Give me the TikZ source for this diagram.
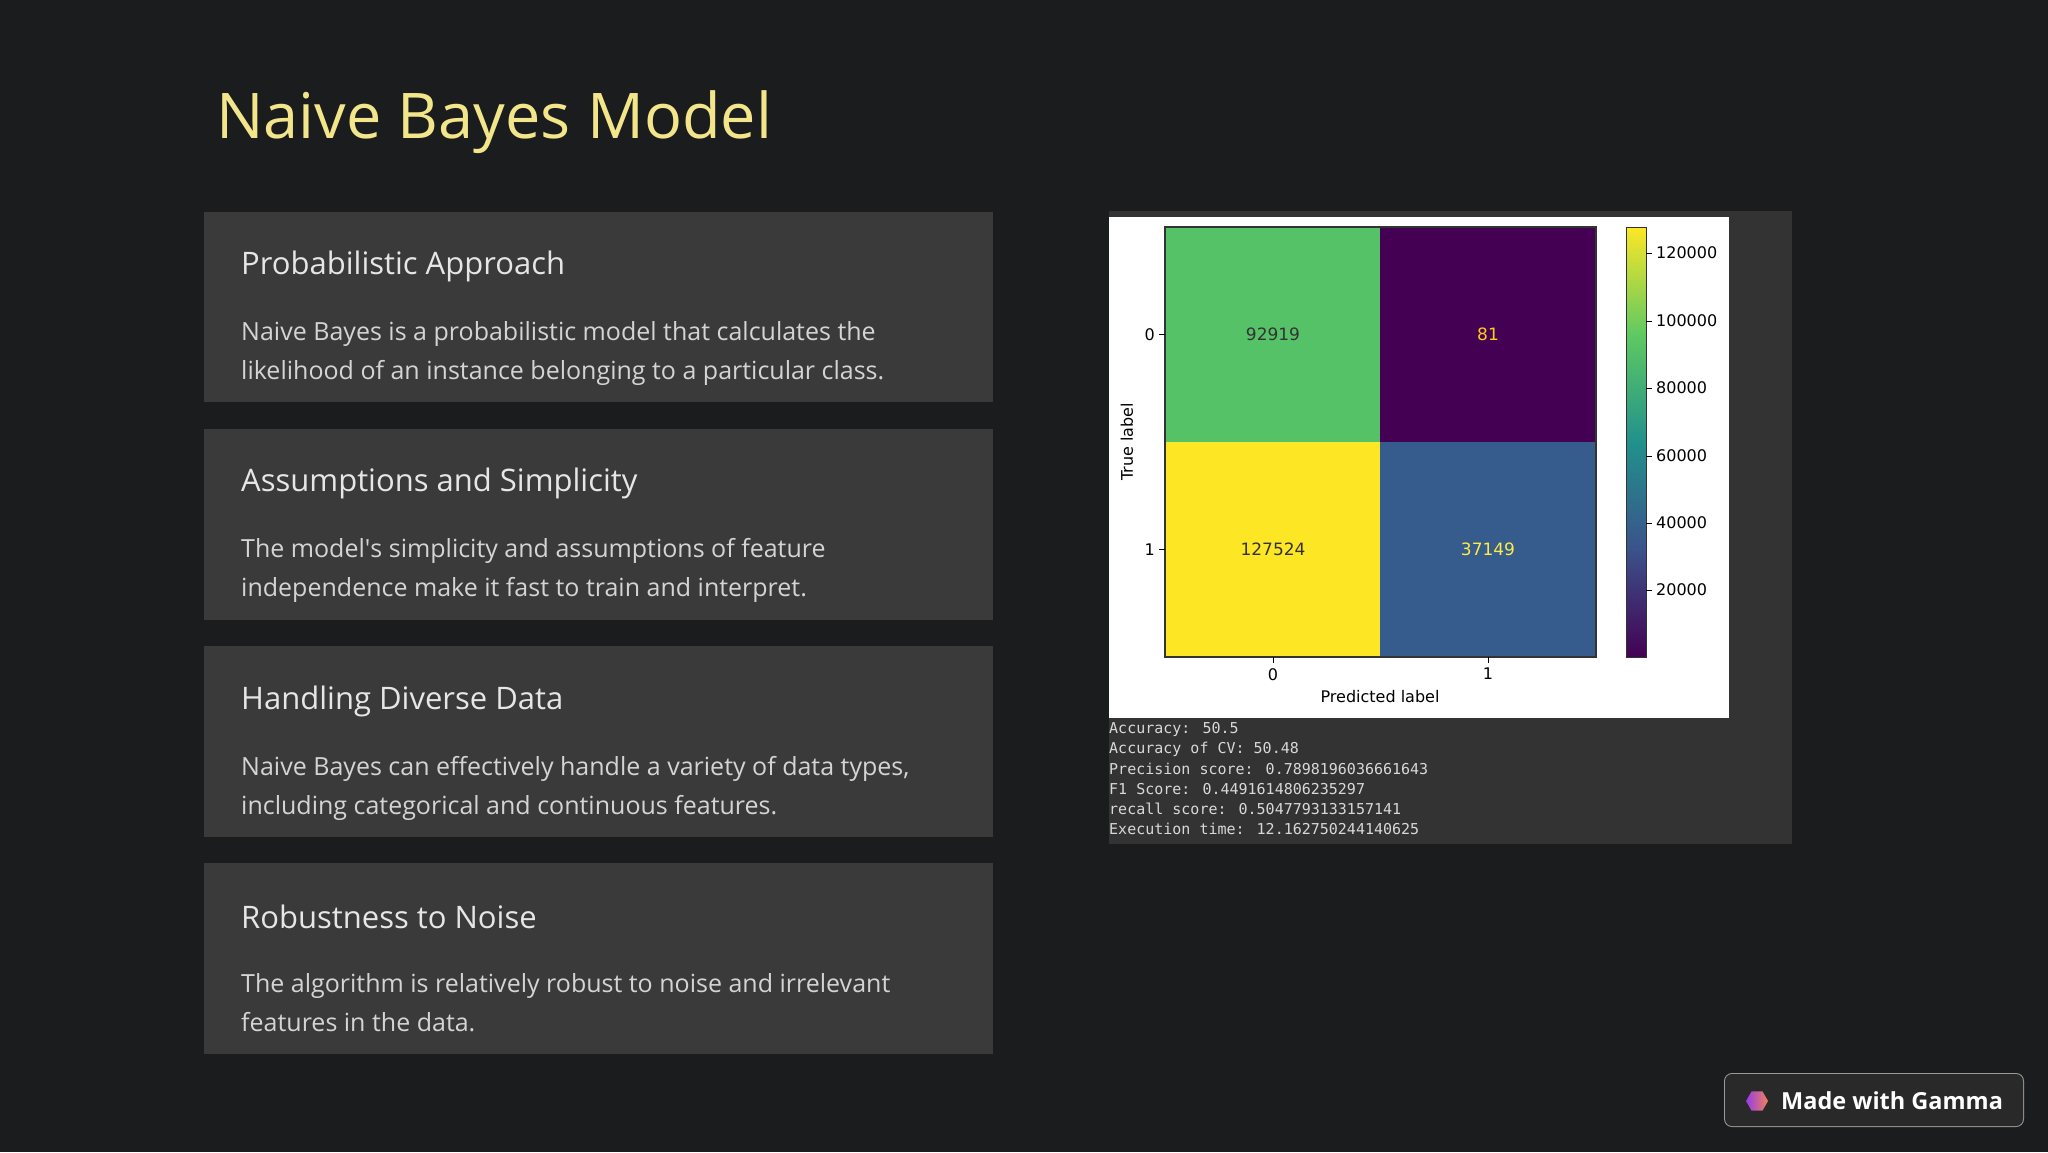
\documentclass[tikz,border=0pt]{standalone}
\usepackage{fontspec}
\setmainfont{Open Sans}
\newfontfamily\monof{DejaVu Sans Mono}
\newfontfamily\dejav{DejaVu Sans}
\usetikzlibrary{shapes.geometric}
\definecolor{bg}{HTML}{1B1C1E}
\definecolor{card}{HTML}{3A3A3B}
\definecolor{panel}{HTML}{333333}
\definecolor{titlec}{HTML}{F3E58A}
\definecolor{headc}{HTML}{E6E6E6}
\definecolor{bodyc}{HTML}{D4D4D4}
\definecolor{badge}{HTML}{2A2929}
\definecolor{vA}{HTML}{440154}
\definecolor{vB}{HTML}{3B528B}
\definecolor{vC}{HTML}{21918C}
\definecolor{vD}{HTML}{5EC962}
\definecolor{vE}{HTML}{FDE725}
\definecolor{cgreen}{HTML}{55C267}
\definecolor{cblue}{HTML}{365C8D}
\definecolor{lpurp}{HTML}{963CE6}
\definecolor{lorange}{HTML}{F0825A}
\tikzset{
  cardbox/.style={fill=card, draw=none},
  head/.style={anchor=west, text=headc, font=\fontsize{31}{36}\selectfont, inner sep=0},
  body/.style={anchor=north west, text=bodyc, align=left, font=\fontsize{25}{39}\selectfont, inner sep=0},
  tick/.style={font=\dejav\fontsize{16}{18}\selectfont, text=black, inner sep=0},
  cellnum/.style={font=\dejav\fontsize{17}{19}\selectfont, inner sep=0},
  stat/.style={anchor=west, font=\monof\fontsize{15}{17}\selectfont, text=bodyc!90, inner sep=0}
}
\begin{document}
\begin{tikzpicture}[x=1pt,y=-1pt]
\fill[bg] (0,0) rectangle (2048,1152);
\useasboundingbox (0,0) rectangle (2048,1152);
\node[anchor=west, text=titlec, font=\fontsize{63}{74}\selectfont, inner sep=0] (title) at (216,122) {Naive Bayes Model};
% cards
\fill[cardbox] (204,212) rectangle (993,402);
\node[head] (h1) at (241,266) {Probabilistic Approach};
\node[body] (b1) at (241,321) {Naive Bayes is a probabilistic model that calculates the\\likelihood of an instance belonging to a particular class.};
\fill[cardbox] (204,429) rectangle (993,620);
\node[head] (h2) at (241,483) {Assumptions and Simplicity};
\node[body] (b2) at (241,538) {The model\textquotesingle s simplicity and assumptions of feature\\independence make it fast to train and interpret.};
\fill[cardbox] (204,646) rectangle (993,837);
\node[head] (h3) at (241,701) {Handling Diverse Data};
\node[body] (b3) at (241,756) {Naive Bayes can effectively handle a variety of data types,\\including categorical and continuous features.};
\fill[cardbox] (204,863) rectangle (993,1054);
\node[head] (h4) at (241,917) {Robustness to Noise};
\node[body] (b4) at (241,973) {The algorithm is relatively robust to noise and irrelevant\\features in the data.};
% right panel
\fill[panel] (1109,211) rectangle (1792,844);
\fill[white] (1109,217) rectangle (1729,718);
\fill[cgreen] (1165,227) rectangle (1380,442);
\fill[vA] (1380,227) rectangle (1596,442);
\fill[vE] (1165,442) rectangle (1380,657);
\fill[cblue] (1380,442) rectangle (1596,657);
\draw[black!80, line width=1.2] (1165,227) rectangle (1596,657);
\node[cellnum, text=black!80] (c00) at (1273,334) {92919};
\node[cellnum, text=vE!75!orange] (c01) at (1488,334) {81};
\node[cellnum, text=black!80] (c10) at (1273,549) {127524};
\node[cellnum, text=vE!85!white] (c11) at (1488,549) {37149};
% axes ticks
\draw[black] (1165,334) -- (1159,334);
\draw[black] (1165,549) -- (1159,549);
\node[tick, anchor=east] (y0) at (1155,335) {0};
\node[tick, anchor=east] (y1) at (1155,550) {1};
\draw[black] (1273,657) -- (1273,663);
\draw[black] (1488,657) -- (1488,663);
\node[tick, anchor=north] (x0) at (1273,668) {0};
\node[tick, anchor=north] (x1) at (1488,668) {1};
\node[tick, anchor=north] (xl) at (1380,690) {Predicted label};
\node[tick, rotate=90] (yl) at (1127,442) {True label};
% colorbar (bottom = vA, top = vE)
\shade[top color=vB, bottom color=vA] (1626,549.5) rectangle (1646,657);
\shade[top color=vC, bottom color=vB] (1626,442) rectangle (1646,550);
\shade[top color=vD, bottom color=vC] (1626,334.5) rectangle (1646,442.5);
\shade[top color=vE, bottom color=vD] (1626,227) rectangle (1646,335);
\draw[black!80, line width=0.8] (1626,227) rectangle (1646,657);
\foreach \v/\yy in {120000/253,100000/321,80000/388,60000/456,40000/523,20000/590}{
  \draw[black] (1646,\yy) -- (1652,\yy);
  \node[tick, anchor=west] at (1656,\yy) {\v};
}
% stats
\node[stat] (s1) at (1109,729) {Accuracy: 50.5};
\node[stat] (s2) at (1109,749) {Accuracy of CV: 50.48};
\node[stat] (s3) at (1109,769) {Precision score: 0.7898196036661643};
\node[stat] (s4) at (1109,789) {F1 Score: 0.4491614806235297};
\node[stat] (s5) at (1109,809) {recall score: 0.5047793133157141};
\node[stat] (s6) at (1109,829) {Execution time: 12.162750244140625};
% badge
\fill[black!40, rounded corners=8] (1724,1073) rectangle (2024,1127);
\fill[badge, rounded corners=7] (1725,1074) rectangle (2023,1126);
\node[regular polygon, regular polygon sides=6, minimum size=22, inner sep=0, left color=lpurp, right color=lorange] (logo) at (1757,1101) {};
\node[anchor=west, text=white, font=\fontsize{23.5}{28}\selectfont\bfseries, inner sep=0] (gamma) at (1781,1101) {Made with Gamma};
\end{tikzpicture}
\end{document}
